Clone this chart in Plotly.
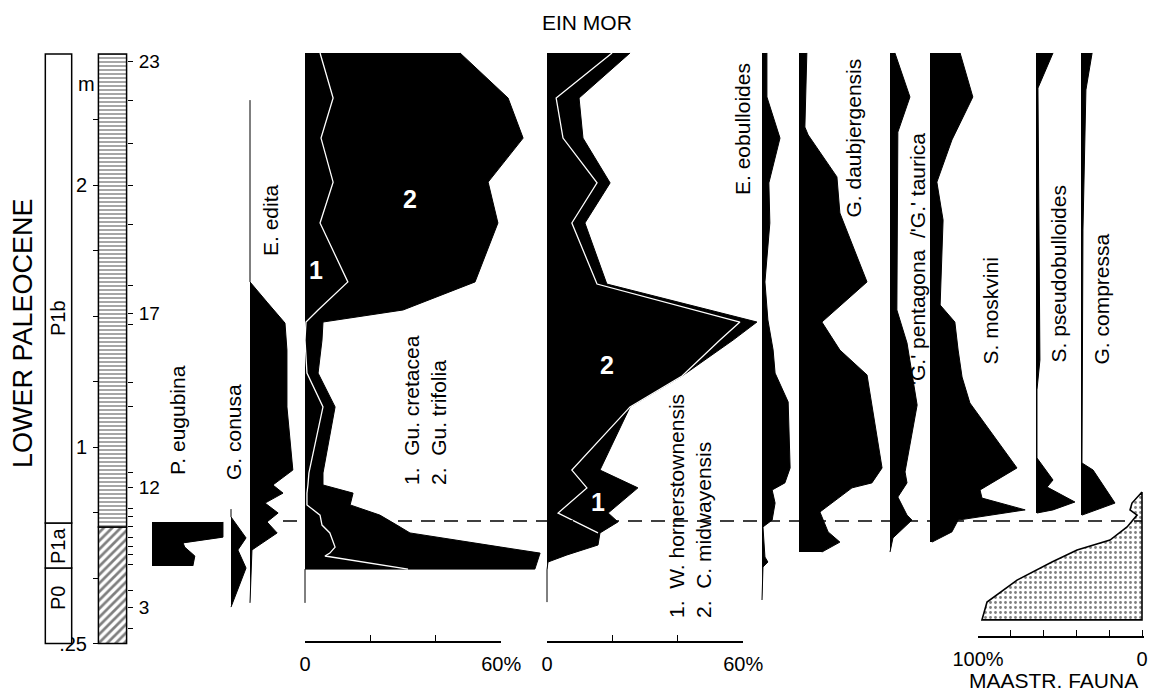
import plotly.graph_objects as go

# ======================= DATA =======================
# depth scale of the section (m) and sample levels
depth_ticks_m = [0.25, 0.5, 0.75, 1.0, 1.25, 1.5, 1.75, 2.0, 2.25]
depth_tick_text = ['.25', '', '', '1', '', '', '', '2', '']
sample_numbers = list(range(23, 1, -1))
sample_depths = [2.473, 2.324, 2.160, 2.000, 1.851, 1.618, 1.511, 1.466, 1.248, 1.153, 0.901,
                 0.847, 0.767, 0.733, 0.695, 0.656, 0.622, 0.588, 0.550, 0.454, 0.389, 0.309]
labelled_samples = [23, 17, 12, 3]

zone_names = ['P0', 'P1a', 'P1b']
zone_bottom = [0.25, 0.538, 0.710]
zone_top = [0.538, 0.710, 2.50]

litho_bottom = [0.25, 0.695]
litho_top = [0.695, 2.50]

boundary_depth = 0.718

# single species, % of fauna versus depth (m)
eugubina_depth = [0.714, 0.656, 0.634, 0.618, 0.584, 0.546]
eugubina_pct = [21.7, 21.7, 9.5, 10.0, 13.1, 12.5]

conusa_depth = [0.763, 0.733, 0.653, 0.607, 0.538, 0.389]
conusa_pct = [0, 0, 4.6, 2.1, 4.6, 0]

edita_depth = [2.324, 1.630, 1.553, 1.473, 1.370, 1.153, 0.912, 0.855, 0.824, 0.786,
               0.748, 0.714, 0.672, 0.607, 0.405]
edita_pct = [0, 0, 5.2, 10.7, 11.3, 11.3, 13.1, 7.0, 10.1, 4.6, 8.6, 5.2, 8.3, 0.6, 0]

# stacked: Gu. cretacea (1) + Gu. trifolia (2)
gu_depth = [2.504, 2.332, 2.179, 2.011, 1.855, 1.630, 1.523, 1.477, 1.408, 1.282, 1.153, 0.901,
            0.855, 0.824, 0.779, 0.740, 0.702, 0.672, 0.618, 0.595, 0.584, 0.534, 0.534, 0.405]
gu_cretacea = [4.6, 8.6, 4.9, 8.6, 4.6, 13.1, 4.0, 0.3, 0, 0.6, 5.5, 1.2,
               0.9, 0.6, 0.6, 4.6, 5.2, 7.6, 9.2, 7.6, 6.1, 31.5, 0, 0]
gu_trifolia = [42.8, 53.5, 61.8, 47.4, 54.4, 38.9, 26.0, 5.2, 5.2, 3.4, 3.7, 4.3,
               4.6, 14.1, 13.2, 18.3, 22.9, 24.5, 50.7, 64.3, 65.5, 38.8, 0, 0]
gu_line_rows = 22

# stacked: C. midwayensis (2, inner) + W. hornerstownensis (1, outer)
wc_depth = [2.504, 2.332, 2.179, 2.008, 1.855, 1.622, 1.477, 1.408, 1.271, 1.153,
            0.912, 0.844, 0.748, 0.714, 0.672, 0.626, 0.588, 0.561, 0.531, 0.408]
wc_midwayensis = [19.9, 2.8, 4.9, 15.3, 7.6, 15.3, 59.0, 52.9, 41.3, 25.4,
                  7.6, 12.2, 3.4, 8.9, 15.6, 15.6, 6.1, 0.3, 0, 0]
wc_hornerstownensis = [5.5, 7.0, 6.1, 4.0, 4.0, 3.0, 5.2, 4.0, 0, 0,
                       8.6, 15.6, 15.3, 12.8, 0.6, 0, 0, 0, 0, 0]
wc_line_rows = 15

eob_depth = [2.504, 2.336, 2.179, 2.008, 1.855, 1.630, 1.485, 1.370, 1.282, 1.172,
             0.920, 0.863, 0.836, 0.786, 0.721, 0.695, 0.580, 0.561, 0.542, 0.416]
eob_pct = [1.5, 1.5, 5.5, 2.1, 2.4, 0.9, 1.8, 3.4, 4.0, 8.0,
           8.6, 7.0, 3.1, 4.0, 3.1, 0.3, 0.9, 1.8, 0.3, 0]

daub_depth = [2.504, 2.221, 2.191, 2.031, 1.893, 1.630, 1.477, 1.370, 1.275, 0.920,
              0.863, 0.844, 0.752, 0.676, 0.637, 0.599]
daub_pct = [2.4, 1.8, 2.8, 11.6, 12.5, 20.8, 7.0, 12.5, 20.8, 25.4,
            22.3, 16.2, 6.4, 8.9, 12.5, 7.0]

penta_depth = [2.504, 2.336, 2.202, 1.523, 1.397, 1.282, 1.160, 0.905, 0.863, 0.809,
               0.740, 0.721, 0.653, 0.599]
penta_pct = [1.5, 6.1, 2.4, 2.1, 5.2, 6.7, 8.3, 4.6, 5.2, 2.4, 5.2, 6.7, 0.9, 0]

mosk_depth = [2.504, 2.336, 2.172, 2.011, 1.866, 1.542, 1.477, 1.370, 1.267, 1.168,
              0.920, 0.836, 0.805, 0.760, 0.721, 0.676, 0.637]
mosk_pct = [9.2, 13.1, 6.7, 2.1, 4.0, 3.1, 7.6, 8.6, 9.8, 12.2,
            26.6, 15.3, 15.9, 29.1, 8.6, 6.7, 0.6]

pseudo_depth = [2.504, 2.370, 1.332, 1.218, 0.958, 0.874, 0.847, 0.790, 0.760, 0.748]
pseudo_pct = [5.2, 0.6, 1.2, 0.3, 0.3, 5.2, 3.4, 11.9, 5.2, 0.3]

compressa_depth = [2.504, 2.363, 1.828, 0.939, 0.912, 0.863, 0.786, 0.740]
compressa_pct = [3.4, 1.5, 0.6, 0.3, 3.7, 6.4, 10.4, 0.3]

maastr_depth = [0.828, 0.786, 0.760, 0.740, 0.695, 0.645, 0.607, 0.561, 0.492, 0.408, 0.340]
maastr_pct = [0, 6.1, 7.3, 3.0, 9.1, 19.5, 39.6, 54.9, 76.2, 94.5, 97.6]

scale_ticks = [0, 20, 40, 60]
scale_text = ['0', '', '', '60%']
maastr_ticks = [0, 20, 40, 60, 80, 100]
maastr_text = ['0', '', '', '', '', '100%']

# ======================= LAYOUT CONSTANTS =======================
W, H = 1152, 696
FONT = 'Liberation Sans, Arial, Helvetica, sans-serif'
PX_PER_PCT = 3.27
PX_PER_M = 262.0
Y1 = 1 + 447 / PX_PER_M
Y0 = Y1 - H / PX_PER_M

panel_base = dict(gu=305, wc=547, eug=152, conusa=231, edita=250, eob=762,
                  daub=799, penta=890, mosk=930, pseudo=1036, compressa=1081)

fig = go.Figure()
axes = {}


def px(x):
    return x / W


def py(y):
    return 1 - y / H


def panel_axis(idx, base):
    key = 'xaxis' if idx == 1 else f'xaxis{idx}'
    ax = dict(domain=[0, 1], range=[-base / PX_PER_PCT, (W - base) / PX_PER_PCT],
              visible=False, fixedrange=True, automargin=False)
    if idx != 1:
        ax['overlaying'] = 'x'
    axes[key] = ax
    return 'x' if idx == 1 else f'x{idx}'


def area(xref, depth, pct, width=1):
    fig.add_trace(go.Scatter(x=pct, y=depth, xaxis=xref, yaxis='y', mode='lines',
                             line=dict(color='black', width=width), fill='tozerox',
                             fillcolor='black', hoverinfo='skip', showlegend=False))


def white_line(xref, depth, pct):
    fig.add_trace(go.Scatter(x=pct, y=depth, xaxis=xref, yaxis='y', mode='lines',
                             line=dict(color='white', width=1.3),
                             hoverinfo='skip', showlegend=False))


# stacked panels
xg = panel_axis(1, panel_base['gu'])
gu_total = [a + b for a, b in zip(gu_cretacea, gu_trifolia)]
area(xg, gu_depth, gu_total)
white_line(xg, gu_depth[:gu_line_rows], gu_cretacea[:gu_line_rows])

xw = panel_axis(2, panel_base['wc'])
wc_total = [a + b for a, b in zip(wc_midwayensis, wc_hornerstownensis)]
area(xw, wc_depth, wc_total)
white_line(xw, wc_depth[:wc_line_rows], wc_midwayensis[:wc_line_rows])

# single panels
singles = [('eug', eugubina_depth, eugubina_pct), ('conusa', conusa_depth, conusa_pct),
           ('edita', edita_depth, edita_pct), ('eob', eob_depth, eob_pct),
           ('daub', daub_depth, daub_pct), ('penta', penta_depth, penta_pct),
           ('mosk', mosk_depth, mosk_pct), ('pseudo', pseudo_depth, pseudo_pct),
           ('compressa', compressa_depth, compressa_pct)]
for i, (k, d, v) in enumerate(singles):
    xr = panel_axis(3 + i, panel_base[k])
    area(xr, d, v)

tickfont = dict(size=20, color='black', family=FONT)

# scale bars for the two stacked panels
for idx, base in ((13, panel_base['gu']), (14, panel_base['wc'])):
    axes[f'xaxis{idx}'] = dict(domain=[px(base), px(base + 60 * PX_PER_PCT)], range=[0, 60],
                               anchor='free', position=py(642), showline=True,
                               linecolor='black', linewidth=1.5, ticks='inside', ticklen=6,
                               tickwidth=1.3, tickcolor='black', tickvals=scale_ticks,
                               ticktext=scale_text, showgrid=False, zeroline=False,
                               tickfont=tickfont, ticklabelstandoff=4, fixedrange=True,
                               automargin=False)
    fig.add_trace(go.Scatter(x=[0, 60], y=[1, 1], xaxis=f'x{idx}', yaxis='y', mode='markers',
                             marker=dict(opacity=0), hoverinfo='skip', showlegend=False))

# Maastrichtian fauna panel (reversed % axis)
MPX = 1.64
axes['xaxis12'] = dict(domain=[px(978), px(1142 + 1.5 * MPX)], range=[100, -1.5],
                       anchor='free', position=py(637), showline=True, linecolor='black',
                       linewidth=1.5, ticks='inside', ticklen=6, tickwidth=1.3,
                       tickcolor='black', tickvals=maastr_ticks, ticktext=maastr_text,
                       showgrid=False, zeroline=False, tickfont=tickfont,
                       ticklabelstandoff=4, fixedrange=True, automargin=False)
fig.add_trace(go.Scatter(x=list(maastr_pct) + [0, 0],
                         y=list(maastr_depth) + [maastr_depth[-1], maastr_depth[0]],
                         xaxis='x12', yaxis='y', mode='lines', fill='toself',
                         line=dict(color='black', width=1.6), fillcolor='white',
                         fillpattern=dict(shape='.', fgcolor='black', bgcolor='white',
                                          size=5, solidity=0.25),
                         hoverinfo='skip', showlegend=False))

# zone column
axes['xaxis20'] = dict(domain=[px(44), px(73)], range=[-0.55, 0.55], visible=False,
                       anchor='y', fixedrange=True, automargin=False)
fig.add_trace(go.Bar(x=[0] * len(zone_names), base=zone_bottom,
                     y=[t - b for t, b in zip(zone_top, zone_bottom)], width=1,
                     xaxis='x20', yaxis='y', marker=dict(color='white',
                                                         line=dict(color='black', width=1.5)),
                     hoverinfo='skip', showlegend=False))

# lithology column
axes['xaxis21'] = dict(domain=[px(97), px(128)], range=[-0.55, 0.55], visible=False,
                       anchor='y', fixedrange=True, automargin=False)
litho_patterns = [dict(shape='/', fgcolor='black', bgcolor='white', size=6, solidity=0.45),
                  dict(shape='-', fgcolor='black', bgcolor='white', size=4, solidity=0.35)]
for b, t, pat in zip(litho_bottom, litho_top, litho_patterns):
    fig.add_trace(go.Bar(x=[0], base=[b], y=[t - b], width=1, xaxis='x21', yaxis='y',
                         marker=dict(color='white', pattern=pat,
                                     line=dict(color='black', width=1.5)),
                         hoverinfo='skip', showlegend=False))
fig.add_trace(go.Scatter(x=[0, 0], y=[sample_depths[0], sample_depths[-1]], xaxis='x21',
                         yaxis='y2', mode='markers', marker=dict(opacity=0),
                         hoverinfo='skip', showlegend=False))

# ======================= ANNOTATIONS =======================
ann = []


def label(text, x, y, size=21, angle=-90, xa='center', ya='bottom', color='black',
          bold=False, align='left'):
    if bold:
        text = f'<b>{text}</b>'
    ann.append(dict(text=text, x=px(x), y=py(y), xref='paper', yref='paper',
                    xanchor=xa, yanchor=ya, textangle=angle, showarrow=False, align=align,
                    font=dict(size=size, color=color, family=FONT)))


NB = '\u00a0'
label('EIN MOR', 587, 22, size=21, angle=0, ya='middle')
label('LOWER PALEOCENE', 23, 333, size=27, ya='middle')
label('m', 86, 84, size=20, angle=0, ya='middle')
for name, y in zip(zone_names, [598, 546, 318]):
    label(name, 58, y, size=20, ya='middle')

label('P. eugubina', 178, 477)
label('G. conusa', 233, 482)
label('E. edita', 270, 258)
label(f'1.{NB}{NB}Gu. cretacea<br>2.{NB}{NB}Gu. trifolia', 425, 487)
label(f'1.{NB}{NB}W. hornerstownensis<br>2.{NB}{NB}C. midwayensis', 690, 620)
label('E. eobulloides', 742, 197)
label('G. daubjergensis', 853, 220)
label("'G.' pentagona  /'G.' taurica", 917, 387)
label('S. moskvini', 990, 367)
label('S. pseudobulloides', 1058, 365)
label('G. compressa', 1101, 367)
label('MAASTR. FAUNA', 1053, 680, size=21, angle=0, ya='middle')

label('2', 410, 199, size=25, angle=0, ya='middle', color='white', bold=True)
label('1', 316, 270, size=25, angle=0, ya='middle', color='white', bold=True)
label('2', 607, 365, size=25, angle=0, ya='middle', color='white', bold=True)
label('1', 598, 502, size=25, angle=0, ya='middle', color='white', bold=True)

# ======================= LAYOUT =======================
sample_text = [str(n) if n in labelled_samples else '' for n in sample_numbers]
fig.update_layout(
    width=W, height=H, margin=dict(l=0, r=0, t=0, b=0, pad=0, autoexpand=False),
    paper_bgcolor='white', plot_bgcolor='rgba(0,0,0,0)', showlegend=False,
    barmode='overlay', font=dict(family=FONT, color='black'),
    yaxis=dict(range=[Y0, Y1], domain=[0, 1], anchor='free', position=px(98), side='left',
               ticks='outside', ticklen=5, tickwidth=1.2, tickcolor='black',
               tickvals=depth_ticks_m, ticktext=depth_tick_text, showgrid=False,
               zeroline=False, showline=False, ticklabelstandoff=2,
               tickfont=tickfont, fixedrange=True, automargin=False),
    yaxis2=dict(range=[Y0, Y1], overlaying='y', anchor='free', position=px(127),
                side='right', ticks='outside', ticklen=5, tickwidth=1.2, tickcolor='black',
                tickvals=sample_depths, ticktext=sample_text, showgrid=False,
                zeroline=False, showline=False, ticklabelstandoff=2,
                tickfont=dict(size=19, color='black', family=FONT), fixedrange=True,
                automargin=False),
    annotations=ann,
    shapes=[dict(type='line', xref='paper', yref='y', x0=px(283), x1=px(1142),
                 y0=boundary_depth, y1=boundary_depth, layer='above',
                 line=dict(color='black', width=1.5, dash='14px,9px'))],
)
fig.update_layout(**axes)

fig.write_html('out.html', config={'displayModeBar': False},
               post_script="document.body.style.margin='0';document.body.style.overflow='hidden';")
